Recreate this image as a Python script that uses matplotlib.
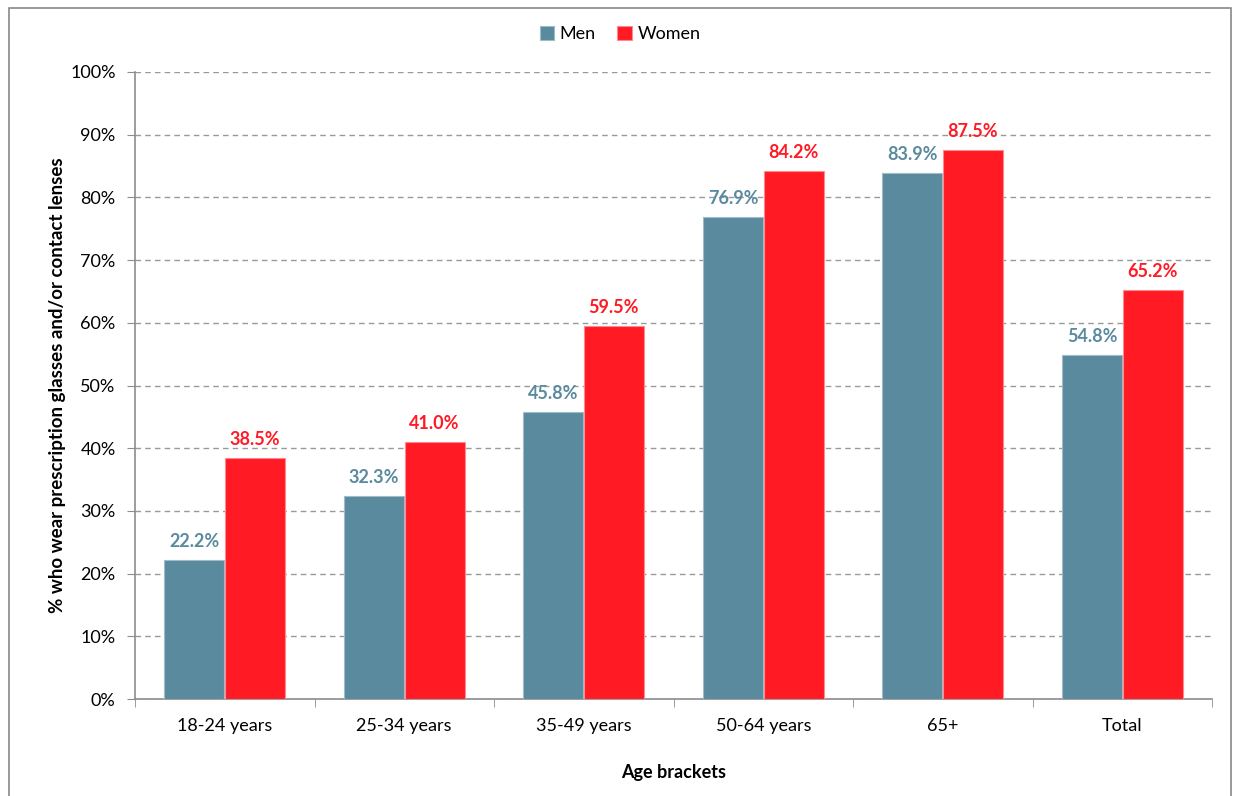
import numpy as np
import matplotlib.pyplot as plt
from matplotlib.patches import Rectangle

plt.rcParams['font.family'] = ['Lato', 'DejaVu Sans']

categories = ['18-24 years', '25-34 years', '35-49 years', '50-64 years', '65+', 'Total']
men = [22.2, 32.3, 45.8, 76.9, 83.9, 54.8]
women = [38.5, 41.0, 59.5, 84.2, 87.5, 65.2]

men_color = '#5A8A9E'
women_color = '#FF1A24'
grey = '#8C8C8C'

fig = plt.figure(figsize=(12.35, 7.96), dpi=100)
ax = fig.add_axes([135 / 1235, 1 - 699 / 796, (1212 - 135) / 1235, (699 - 72) / 796])

x = np.arange(len(categories))
w = 0.335
ax.bar(x - w / 2 - 0.003, men, w, color=men_color, edgecolor='#9FBCC8', linewidth=0.8, label='Men', zorder=3)
ax.bar(x + w / 2 + 0.003, women, w, color=women_color, edgecolor='#FF8A8F', linewidth=0.8, label='Women', zorder=3)

for i in range(len(categories)):
    ax.text(x[i] - w / 2, men[i] + 1.6, f'{men[i]:.1f}%', ha='center', va='bottom',
            color=men_color, fontsize=13, fontweight='bold')
    ax.text(x[i] + w / 2, women[i] + 1.6, f'{women[i]:.1f}%', ha='center', va='bottom',
            color=women_color, fontsize=13, fontweight='bold')

ax.set_xlim(-0.5, len(categories) - 0.5)
ax.set_ylim(0, 100)
ax.set_yticks(np.arange(0, 101, 10))
ax.set_yticklabels([f'{v}%' for v in range(0, 101, 10)], fontsize=13)
ax.set_xticks(x)
ax.set_xticklabels(categories, fontsize=13)
ax.tick_params(axis='x', length=0, pad=14)
ax.set_xticks(np.arange(-0.5, len(categories), 1), minor=True)
ax.tick_params(axis='x', which='minor', length=6, color=grey, direction='out')
ax.tick_params(axis='y', length=6, color=grey, pad=8)

ax.yaxis.grid(True, linestyle=(0, (4, 3)), color='#999999', linewidth=1, zorder=0)
for s in ['top', 'right']:
    ax.spines[s].set_visible(False)
for s in ['left', 'bottom']:
    ax.spines[s].set_color(grey)
    ax.spines[s].set_linewidth(1.2)

ax.set_ylabel('% who wear prescription glasses and/or contact lenses', fontsize=13.5, fontweight='bold', labelpad=3)
ax.set_xlabel('Age brackets', fontsize=13, fontweight='bold', labelpad=21)

fig.legend(loc='center', bbox_to_anchor=(620 / 1235, 1 - 34 / 796), ncol=2, frameon=False,
           fontsize=13, handlelength=0.8, handleheight=0.8, handletextpad=0.3, columnspacing=1.2)

fig.patches.append(Rectangle((9 / 1235, -0.05), (1231 - 9) / 1235, 1.05 - 8 / 796,
                             transform=fig.transFigure, fill=False, edgecolor='#888888', linewidth=1.2))

fig.savefig('out.png', dpi=100)
